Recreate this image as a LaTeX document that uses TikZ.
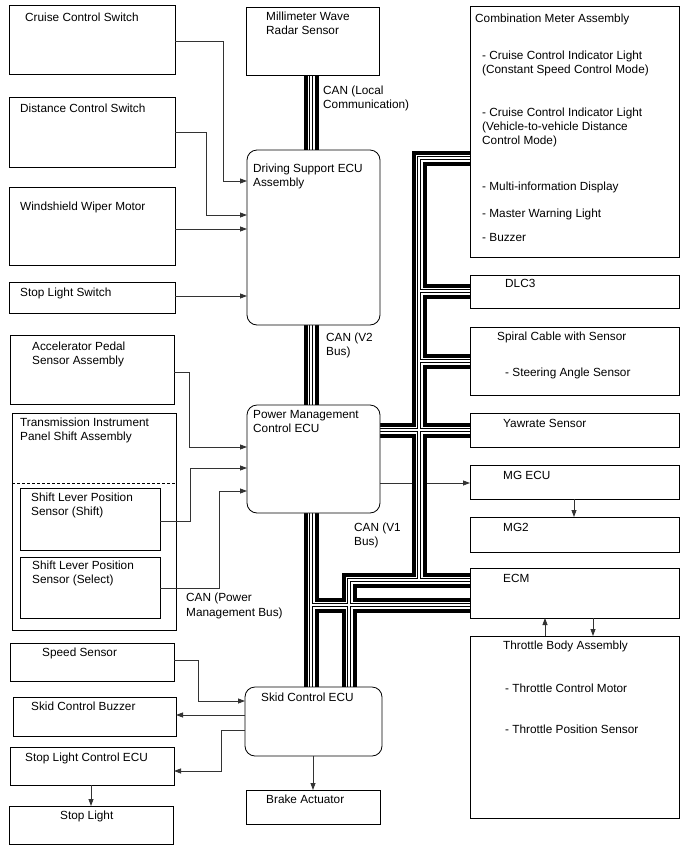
\documentclass[tikz,border=0pt]{standalone}
\usepackage{fontspec}
\setmainfont{Liberation Sans}
\usetikzlibrary{arrows.meta,backgrounds}

\tikzset{
  box/.style={draw, fill=white, line width=0.8pt, anchor=north west, inner sep=0pt, outer sep=0pt},
  ecu/.style={box, rounded corners=10pt},
  txt/.style={anchor=north west, inner sep=0pt, align=left, font=\fontsize{11.8}{14.2}\selectfont},
  arr/.style={line width=0.8pt, black!80, -{Triangle[length=7pt,width=5pt]}},
}

\begin{document}
\begin{tikzpicture}[x=1pt,y=1pt]
\useasboundingbox (0,0) rectangle (688,-852);
% left column
\node[box, minimum width=166pt, minimum height=69pt] (ccs) at (9,-5) {};
\node[box, minimum width=166pt, minimum height=70pt] (dcs) at (9,-97) {};
\node[box, minimum width=166pt, minimum height=78pt] (wwm) at (9,-187) {};
\node[box, minimum width=166pt, minimum height=31pt] (sls) at (9,-282) {};
\node[box, minimum width=164pt, minimum height=69pt] (aps) at (10,-335) {};
\node[box, minimum width=164pt, minimum height=217pt] (tip) at (12,-413) {};
\draw[line width=0.8pt, dash pattern=on 3pt off 2pt] (tip.west |- 0,-483) -- (tip.east |- 0,-483);
\node[box, minimum width=140pt, minimum height=62pt] (slp1) at (20,-488) {};
\node[box, minimum width=140pt, minimum height=61pt] (slp2) at (20,-557) {};
\node[box, minimum width=164pt, minimum height=38pt] (spd) at (10,-643) {};
\node[box, minimum width=163pt, minimum height=39pt] (scb) at (13,-697) {};
\node[box, minimum width=164pt, minimum height=38pt] (slc) at (10,-747) {};
\node[box, minimum width=164pt, minimum height=38pt] (stl) at (9,-806) {};
% middle column
\node[box, minimum width=133pt, minimum height=68pt] (mmw) at (246,-7) {};
\node[ecu, minimum width=133pt, minimum height=175pt] (dse) at (247,-150) {};
\node[ecu, minimum width=133pt, minimum height=108pt] (pmc) at (247,-405) {};
\node[ecu, minimum width=137pt, minimum height=69pt] (skid) at (245,-687) {};
\node[box, minimum width=134pt, minimum height=34pt] (brk) at (246,-790) {};
% right column
\node[box, minimum width=209pt, minimum height=251pt] (cma) at (470,-6) {};
\node[box, minimum width=209pt, minimum height=33pt] (dlc) at (470,-275) {};
\node[box, minimum width=209pt, minimum height=68pt] (scs) at (470,-327) {};
\node[box, minimum width=209pt, minimum height=34pt] (yaw) at (470,-413) {};
\node[box, minimum width=209pt, minimum height=34pt] (mgecu) at (470,-465) {};
\node[box, minimum width=209pt, minimum height=35pt] (mg2) at (470,-517) {};
\node[box, minimum width=209pt, minimum height=50pt] (ecm) at (470,-568) {};
\node[box, minimum width=209pt, minimum height=182pt] (thr) at (470,-636) {};

% texts
\node[txt] (t-ccs) at (25,-12.7) {Cruise Control Switch};
\node[txt] (t-dcs) at (20,-103.7) {Distance Control Switch};
\node[txt] (t-wwm) at (20,-201.7) {Windshield Wiper Motor};
\node[txt] (t-sls) at (20,-287.7) {Stop Light Switch};
\node[txt] (t-aps) at (32,-341.7) {Accelerator Pedal\\Sensor Assembly};
\node[txt] (t-tip) at (20,-417.7) {Transmission Instrument\\Panel Shift Assembly};
\node[txt] (t-slp1) at (31,-492.7) {Shift Lever Position\\Sensor (Shift)};
\node[txt] (t-slp2) at (32,-560.7) {Shift Lever Position\\Sensor (Select)};
\node[txt] (t-spd) at (42,-647.7) {Speed Sensor};
\node[txt] (t-scb) at (31,-701.7) {Skid Control Buzzer};
\node[txt] (t-slc) at (25,-752.7) {Stop Light Control ECU};
\node[txt] (t-stl) at (60,-810.7) {Stop Light};
\node[txt] (t-mmw) at (266,-11.7) {Millimeter Wave\\Radar Sensor};
\node[txt] (t-local) at (323,-85.7) {CAN (Local\\Communication)};
\node[txt] (t-dse) at (253,-163.7) {Driving Support ECU\\Assembly};
\node[txt] (t-v2) at (326,-332.7) {CAN (V2\\Bus)};
\node[txt] (t-pmc) at (253,-409.7) {Power Management\\Control ECU};
\node[txt] (t-v1) at (354,-522.7) {CAN (V1\\Bus)};
\node[txt] (t-pmb) at (186,-593.2) {CAN (Power\\Management Bus)};
\node[txt] (t-skid) at (261,-692.7) {Skid Control ECU};
\node[txt] (t-brk) at (266,-794.7) {Brake Actuator};
\node[txt] (t-cma) at (475,-13.7) {Combination Meter Assembly};
\node[txt] (t-cil1) at (482,-50.7) {- Cruise Control Indicator Light\\(Constant Speed Control Mode)};
\node[txt] (t-cil2) at (482,-107.7) {- Cruise Control Indicator Light\\(Vehicle-to-vehicle Distance\\Control Mode)};
\node[txt] (t-mid) at (482,-181.7) {- Multi-information Display};
\node[txt] (t-mwl) at (482,-208.7) {- Master Warning Light};
\node[txt] (t-buz) at (482,-232.7) {- Buzzer};
\node[txt] (t-dlc) at (505,-278.7) {DLC3};
\node[txt] (t-scs) at (497,-331.7) {Spiral Cable with Sensor};
\node[txt] (t-sas) at (505,-367.7) {- Steering Angle Sensor};
\node[txt] (t-yaw) at (503,-418.7) {Yawrate Sensor};
\node[txt] (t-mgecu) at (503,-470.7) {MG ECU};
\node[txt] (t-mg2) at (503,-522.7) {MG2};
\node[txt] (t-ecm) at (503,-574.2) {ECM};
\node[txt] (t-thr) at (503,-641.2) {Throttle Body Assembly};
\node[txt] (t-tcm) at (505,-683.7) {- Throttle Control Motor};
\node[txt] (t-tps) at (505,-724.7) {- Throttle Position Sensor};

% signal lines
\draw[arr] (ccs.east |- 0,-41) -- (223,-41) |- (dse.west |- 0,-181);
\draw[arr] (dcs.east |- 0,-132) -- (206,-132) |- (dse.west |- 0,-215);
\draw[arr] (wwm.east |- 0,-229) -- (dse.west |- 0,-229);
\draw[arr] (sls.east |- 0,-296) -- (dse.west |- 0,-296);
\draw[arr] (aps.east |- 0,-372) -- (189,-372) |- (pmc.west |- 0,-447);
\draw[arr] (slp1.east |- 0,-521) -- (190,-521) |- (pmc.west |- 0,-468);
\draw[arr] (slp2.east |- 0,-588) -- (219,-588) |- (pmc.west |- 0,-491);
\draw[arr] (spd.east |- 0,-660) -- (198,-660) |- (skid.west |- 0,-701);
\draw[arr] (skid.west |- 0,-715) -- (scb.east |- 0,-715);
\draw[arr] (skid.west |- 0,-730) -- (221,-730) |- (slc.east |- 0,-771);
\draw[arr] (slc.south -| 91,0) -- (stl.north -| 91,0);
\draw[arr] (skid.south -| 313,0) -- (brk.north -| 313,0);
\draw[arr] (mgecu.south -| 574,0) -- (mg2.north -| 574,0);
\draw[arr] (thr.north -| 545,0) -- (ecm.south -| 545,0);
\draw[arr] (ecm.south -| 593,0) -- (thr.north -| 593,0);

% CAN buses
\coordinate (trunktop) at (419,-158);
\coordinate (trunkbot) at (419,-580);
\coordinate (pmcross) at (419,-430);
\coordinate (v1corner) at (349,-580);
\coordinate (v1tee) at (311,-605);
\begin{pgfonlayer}{background}
\draw[arr] (pmc.east |- 0,-483) -- (mgecu.west |- 0,-483);
\foreach \w/\c in {15/black,7/white,4/black,1.8/white}{
  \draw[line width=\w pt, \c]
    (mmw.south -| 311,0) -- (dse.north -| 311,0)
    (dse.south -| 311,0) -- (pmc.north -| 311,0)
    (pmc.south -| 311,0) -- (skid.north -| 311,0)
    (cma.west |- trunktop) -- (trunktop) -- (trunkbot) -- (ecm.west |- trunkbot)
    (trunkbot) -- (v1corner) -- (skid.north -| v1corner)
    (pmc.east |- pmcross) -- (yaw.west |- pmcross)
    (trunktop |- 0,-291) -- (dlc.west |- 0,-291)
    (trunktop |- 0,-361) -- (scs.west |- 0,-361)
    (v1tee) -- (ecm.west |- v1tee);
}
\end{pgfonlayer}
\end{tikzpicture}
\end{document}
